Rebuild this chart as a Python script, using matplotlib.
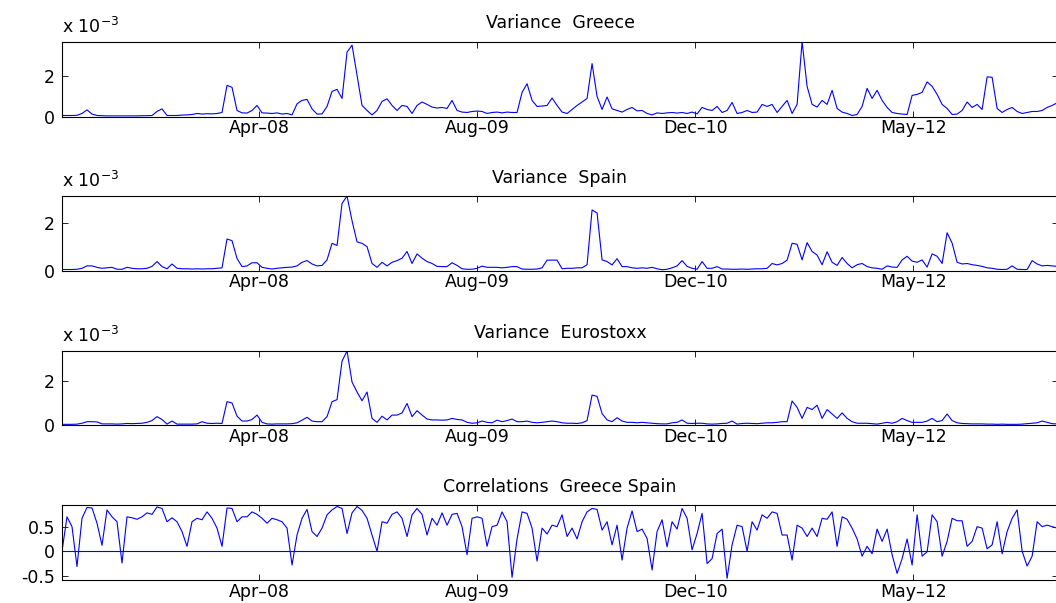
import numpy as np
import pandas as pd
import matplotlib
matplotlib.use('Agg')
import matplotlib.pyplot as plt
import matplotlib.dates as mdates

## sampling dates
dates = pd.date_range('2007-01-05', '2013-04-05', periods=200)

## variances (units of 1e-3)
greece = [0.05, 0.05, 0.05, 0.06, 0.15, 0.33, 0.12, 0.05, 0.04, 0.03,
          0.03, 0.03, 0.03, 0.03, 0.03, 0.03, 0.04, 0.04, 0.05, 0.25,
          0.38, 0.05, 0.05, 0.05, 0.07, 0.08, 0.10, 0.15, 0.12, 0.14,
          0.13, 0.15, 0.20, 1.55, 1.45, 0.30, 0.18, 0.17, 0.30, 0.55,
          0.18, 0.17, 0.15, 0.18, 0.12, 0.15, 0.08, 0.63, 0.80, 0.85,
          0.38, 0.12, 0.13, 0.50, 1.25, 1.35, 0.90, 3.20, 3.55, 2.05,
          0.55, 0.30, 0.08, 0.30, 0.75, 0.88, 0.55, 0.30, 0.55, 0.50,
          0.15, 0.55, 0.72, 0.60, 0.47, 0.42, 0.45, 0.40, 0.80, 0.30,
          0.22, 0.20, 0.25, 0.27, 0.25, 0.15, 0.20, 0.22, 0.18, 0.22,
          0.20, 0.20, 1.20, 1.63, 0.80, 0.50, 0.52, 0.55, 0.92, 0.55,
          0.22, 0.15, 0.35, 0.55, 0.72, 0.90, 2.63, 1.00, 0.35, 0.97,
          0.38, 0.30, 0.22, 0.35, 0.45, 0.28, 0.30, 0.15, 0.08, 0.18,
          0.15, 0.18, 0.20, 0.17, 0.20, 0.15, 0.22, 0.13, 0.45, 0.35,
          0.30, 0.50, 0.20, 0.30, 0.70, 0.15, 0.20, 0.30, 0.20, 0.22,
          0.60, 0.50, 0.60, 0.20, 0.50, 0.80, 0.15, 0.60, 3.72, 1.50,
          0.60, 0.47, 0.80, 0.60, 1.30, 0.40, 0.22, 0.15, 0.05, 0.10,
          0.50, 1.40, 0.90, 1.30, 0.80, 0.45, 0.20, 0.15, 0.12, 0.10,
          1.05, 1.10, 1.20, 1.72, 1.50, 1.10, 0.60, 0.40, 0.10, 0.12,
          0.30, 0.72, 0.45, 0.60, 0.35, 1.97, 1.95, 0.40, 0.20, 0.35,
          0.45, 0.25, 0.15, 0.20, 0.25, 0.25, 0.30, 0.45, 0.55, 0.68]

spain = [0.05, 0.05, 0.05, 0.06, 0.10, 0.20, 0.20, 0.14, 0.10, 0.12,
         0.14, 0.06, 0.06, 0.14, 0.10, 0.08, 0.08, 0.10, 0.18, 0.38,
         0.17, 0.08, 0.28, 0.10, 0.08, 0.08, 0.07, 0.08, 0.07, 0.08,
         0.08, 0.10, 0.12, 1.32, 1.25, 0.51, 0.17, 0.20, 0.33, 0.33,
         0.14, 0.10, 0.07, 0.10, 0.12, 0.14, 0.15, 0.20, 0.35, 0.42,
         0.28, 0.20, 0.22, 0.45, 1.14, 1.05, 2.80, 3.11, 2.08, 1.20,
         1.14, 1.00, 0.30, 0.14, 0.35, 0.20, 0.35, 0.42, 0.52, 0.80,
         0.30, 0.70, 0.52, 0.38, 0.30, 0.18, 0.17, 0.17, 0.33, 0.22,
         0.08, 0.06, 0.06, 0.10, 0.19, 0.14, 0.14, 0.14, 0.12, 0.14,
         0.17, 0.17, 0.07, 0.06, 0.06, 0.07, 0.12, 0.44, 0.44, 0.44,
         0.08, 0.10, 0.10, 0.12, 0.12, 0.25, 2.53, 2.40, 0.45, 0.38,
         0.24, 0.50, 0.17, 0.17, 0.12, 0.10, 0.12, 0.10, 0.14, 0.08,
         0.04, 0.06, 0.12, 0.20, 0.42, 0.18, 0.10, 0.06, 0.38, 0.10,
         0.10, 0.17, 0.07, 0.07, 0.06, 0.06, 0.07, 0.06, 0.07, 0.08,
         0.08, 0.10, 0.30, 0.24, 0.30, 0.44, 1.14, 1.10, 0.45, 1.17,
         0.80, 0.65, 0.25, 0.79, 0.35, 0.22, 0.55, 0.30, 0.12, 0.25,
         0.30, 0.17, 0.12, 0.10, 0.06, 0.20, 0.15, 0.14, 0.45, 0.60,
         0.40, 0.35, 0.45, 0.15, 0.70, 0.60, 0.30, 1.58, 1.15, 0.35,
         0.28, 0.30, 0.25, 0.22, 0.18, 0.12, 0.10, 0.06, 0.05, 0.06,
         0.20, 0.06, 0.05, 0.05, 0.42, 0.28, 0.20, 0.22, 0.20, 0.18]

eurostoxx = [0.03, 0.03, 0.03, 0.04, 0.08, 0.15, 0.15, 0.14, 0.05, 0.05,
             0.05, 0.04, 0.05, 0.07, 0.06, 0.07, 0.08, 0.12, 0.20, 0.38,
             0.25, 0.04, 0.18, 0.04, 0.04, 0.04, 0.04, 0.05, 0.15, 0.08,
             0.07, 0.08, 0.07, 1.06, 1.00, 0.40, 0.18, 0.18, 0.25, 0.45,
             0.12, 0.05, 0.04, 0.05, 0.05, 0.05, 0.06, 0.10, 0.22, 0.35,
             0.18, 0.15, 0.15, 0.38, 1.06, 1.15, 2.90, 3.36, 1.95, 1.50,
             1.10, 1.50, 0.30, 0.12, 0.40, 0.23, 0.45, 0.45, 0.55, 0.98,
             0.38, 0.65, 0.45, 0.27, 0.23, 0.23, 0.22, 0.23, 0.30, 0.25,
             0.23, 0.12, 0.08, 0.10, 0.18, 0.12, 0.10, 0.22, 0.15, 0.20,
             0.27, 0.15, 0.15, 0.18, 0.12, 0.10, 0.12, 0.15, 0.18, 0.15,
             0.10, 0.08, 0.08, 0.07, 0.10, 0.20, 1.36, 1.30, 0.52, 0.23,
             0.15, 0.33, 0.18, 0.12, 0.12, 0.10, 0.12, 0.10, 0.08, 0.06,
             0.05, 0.05, 0.10, 0.12, 0.23, 0.08, 0.07, 0.08, 0.08, 0.05,
             0.04, 0.05, 0.07, 0.08, 0.18, 0.04, 0.07, 0.08, 0.07, 0.06,
             0.08, 0.10, 0.10, 0.12, 0.15, 0.15, 1.09, 0.80, 0.30, 0.80,
             0.70, 0.90, 0.30, 0.70, 0.50, 0.30, 0.55, 0.30, 0.15, 0.08,
             0.08, 0.08, 0.06, 0.04, 0.08, 0.12, 0.08, 0.15, 0.30, 0.20,
             0.12, 0.12, 0.12, 0.18, 0.30, 0.15, 0.20, 0.50, 0.20, 0.10,
             0.07, 0.06, 0.05, 0.05, 0.05, 0.04, 0.04, 0.03, 0.04, 0.03,
             0.03, 0.03, 0.04, 0.06, 0.08, 0.10, 0.18, 0.12, 0.06, 0.05]

## conditional correlation Greece / Spain
corr_gr_es = [0.00, 0.70, 0.50, -0.31, 0.67, 0.89, 0.88, 0.57, 0.12, 0.84,
              0.70, 0.60, -0.24, 0.70, 0.68, 0.65, 0.70, 0.78, 0.75, 0.90,
              0.87, 0.60, 0.68, 0.60, 0.40, 0.10, 0.60, 0.67, 0.64, 0.80,
              0.67, 0.47, 0.10, 0.88, 0.87, 0.60, 0.70, 0.70, 0.80, 0.75,
              0.67, 0.57, 0.67, 0.64, 0.60, 0.47, -0.28, 0.33, 0.67, 0.85,
              0.40, 0.30, 0.47, 0.74, 0.84, 0.91, 0.87, 0.36, 0.78, 0.91,
              0.83, 0.67, 0.33, 0.00, 0.60, 0.57, 0.75, 0.80, 0.67, 0.30,
              0.74, 0.87, 0.75, 0.33, 0.67, 0.53, 0.78, 0.53, 0.75, 0.77,
              0.50, -0.07, 0.67, 0.70, 0.67, 0.10, 0.50, 0.53, 0.80, 0.60,
              -0.53, 0.25, 0.80, 0.77, 0.47, -0.20, 0.47, 0.35, 0.53, 0.50,
              0.74, 0.30, 0.47, 0.25, 0.60, 0.80, 0.87, 0.85, 0.43, 0.60,
              0.13, 0.53, -0.18, 0.47, 0.82, 0.40, 0.45, 0.26, -0.38, 0.40,
              0.64, 0.09, 0.60, 0.45, 0.87, 0.67, 0.03, 0.36, 0.77, -0.25,
              -0.15, 0.36, 0.45, -0.55, 0.13, 0.53, 0.50, 0.00, 0.60, 0.43,
              0.74, 0.67, 0.80, 0.77, 0.33, 0.33, -0.18, 0.53, 0.47, 0.30,
              0.47, 0.30, 0.67, 0.65, 0.80, 0.10, 0.70, 0.65, 0.47, 0.25,
              -0.10, 0.10, -0.05, 0.45, 0.20, 0.45, -0.07, -0.45, -0.15, 0.25,
              -0.28, 0.74, -0.10, -0.01, 0.74, 0.60, -0.10, 0.20, 0.67, 0.62,
              0.62, 0.10, 0.20, 0.50, 0.47, 0.05, 0.13, 0.60, -0.05, 0.40,
              0.67, 0.84, 0.00, -0.30, -0.10, 0.60, 0.50, 0.53, 0.50, 0.47]

titles = ['Variance  Greece', 'Variance  Spain', 'Variance  Eurostoxx',
          'Correlations  Greece Spain']
tick_dates = pd.to_datetime(['2008-04-01', '2009-08-14', '2010-12-27', '2012-05-10'])

plt.rcParams['font.family'] = 'DejaVu Sans'
plt.rcParams['font.size'] = 12.5

W, H = 1056.0, 603.0
fig = plt.figure(figsize=(W / 100, H / 100), dpi=100)

# panel boxes in pixels (top, bottom); all share left/right
boxes = [(41.7, 116.5), (196.0, 270.7), (351.0, 425.0), (505.0, 580.3)]
left, right = 62.0, 1058.0
ylims = [(0, 3.72), (0, 3.11), (0, 3.36), (-0.59, 0.94)]
series = [greece, spain, eurostoxx, corr_gr_es]

for k, (top, bot) in enumerate(boxes):
    ax = fig.add_axes([left / W, 1 - bot / H, (right - left) / W, (bot - top) / H])
    ax.plot(dates, series[k], color='#0000ff', lw=0.8)
    if k == 3:
        ax.axhline(0, color='#0000ff', lw=0.8)
        ax.set_yticks([-0.5, 0, 0.5])
        ax.set_yticklabels(['-0.5', '0', '0.5'])
    else:
        ax.set_yticks([0, 2])
        ax.annotate(r'x 10$^{-3}$', xy=(0, 1), xycoords='axes fraction',
                    xytext=(0, 6.3), textcoords='offset points',
                    ha='left', va='baseline', fontsize=12.5)
    ax.set_ylim(*ylims[k])
    ax.set_xlim(dates[0], dates[-1] + pd.Timedelta(days=2))
    ax.set_xticks(tick_dates)
    ax.xaxis.set_major_formatter(mdates.DateFormatter('%b\u2013%y'))
    ax.set_title(titles[k], fontsize=12.5, pad=9.6)
    ax.tick_params(direction='in', length=4, width=0.6, top=True, right=True,
                   labelsize=12.5)
    ax.tick_params(axis='x', pad=1.8)
    ax.tick_params(axis='y', pad=5)
    for s in ax.spines.values():
        s.set_linewidth(0.8)

fig.savefig('out.png', dpi=100)
